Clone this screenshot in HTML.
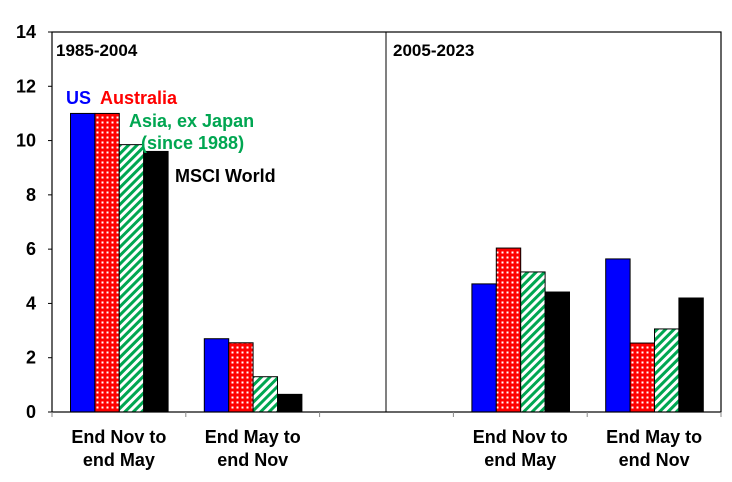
<!DOCTYPE html>
<html><head><meta charset="utf-8"><style>
body{margin:0;background:#fff;font-family:"Liberation Sans",Arial,sans-serif}
svg text{font-family:"Liberation Sans",Arial,sans-serif;font-weight:bold}
</style></head><body>
<svg id="chart" width="732" height="477" xmlns="http://www.w3.org/2000/svg">
<defs>
<pattern id="dots" width="5" height="5" patternUnits="userSpaceOnUse">
<rect width="5" height="5" fill="#ff0000"/><rect x="1.5" y="1.5" width="2" height="2" fill="#fff"/>
</pattern>
<pattern id="stripes" width="6" height="6" patternUnits="userSpaceOnUse" patternTransform="rotate(45)">
<rect width="6" height="6" fill="#fff"/><rect width="3" height="6" fill="#00a651"/>
</pattern>
</defs>
<g id="marks"></g>
<rect x="52" y="32" width="669" height="380" fill="none" stroke="#000" stroke-width="1.2"/>
<line x1="386" y1="32" x2="386" y2="412" stroke="#000" stroke-width="1"/>
<text x="56" y="56" font-size="17">1985-2004</text>
<text x="393" y="56" font-size="17">2005-2023</text>
<text x="66" y="104" font-size="18" fill="#0000ff">US</text>
<text x="100" y="104" font-size="18" fill="#ff0000">Australia</text>
<text x="129" y="127" font-size="18" fill="#00a651">Asia, ex Japan</text>
<text x="141" y="149" font-size="18" fill="#00a651">(since 1988)</text>
<text x="175" y="182" font-size="18" fill="#000">MSCI World</text>
<g id="axes"></g>
</svg>
<script>
const categories=["End Nov to|end May","End May to|end Nov","","End Nov to|end May","End May to|end Nov"];
const usValues=[11.0,2.7,null,4.72,5.64];
const ausValues=[11.0,2.55,null,6.04,2.54];
const asiaValues=[9.85,1.3,null,5.16,3.06];
const worldValues=[9.6,0.65,null,4.42,4.2];
const yTicks=[0,2,4,6,8,10,12,14];
const NS="http://www.w3.org/2000/svg";
const L=52,R=721,T=32,B=412,yMax=14;
const slotW=(R-L)/categories.length;
const y=v=>B-(v/yMax)*(B-T);
const xSlot=i=>L+i*slotW;
const marks=document.getElementById('marks'),axes=document.getElementById('axes');
function mk(tag,attrs,parent){const e=document.createElementNS(NS,tag);for(const k in attrs)e.setAttribute(k,attrs[k]);parent.appendChild(e);return e;}
const series=[{v:usValues,f:"#0000ff",n:"us"},{v:ausValues,f:"url(#dots)",n:"australia"},{v:asiaValues,f:"url(#stripes)",n:"asia"},{v:worldValues,f:"#000",n:"msci-world"}];
const bw=24.4,off=18.5;
series.forEach((s,si)=>{s.v.forEach((v,i)=>{if(v==null)return;
const r=mk('rect',{x:xSlot(i)+off+si*bw,y:y(v),width:bw,height:B-y(v),fill:s.f,stroke:"#000","stroke-width":"1"},marks);

});});
yTicks.forEach(t=>{const tx=mk('text',{x:36,y:y(t)+6,"font-size":"18","text-anchor":"end"},axes);tx.textContent=t;


const ln=mk('line',{x1:L-4,x2:L,y1:y(t),y2:y(t),stroke:"#000"},axes);

});
for(let i=0;i<=categories.length;i++){const ln=mk('line',{x1:xSlot(i),x2:xSlot(i),y1:B,y2:B+5,stroke:"#888"},axes);

}
categories.forEach((c,i)=>{if(!c)return;const parts=c.split('|');
parts.forEach((p,j)=>{const tx=mk('text',{x:xSlot(i)+slotW/2,y:443+j*23,"font-size":"18","text-anchor":"middle"},axes);tx.textContent=p;

});});
</script>
</body></html>
